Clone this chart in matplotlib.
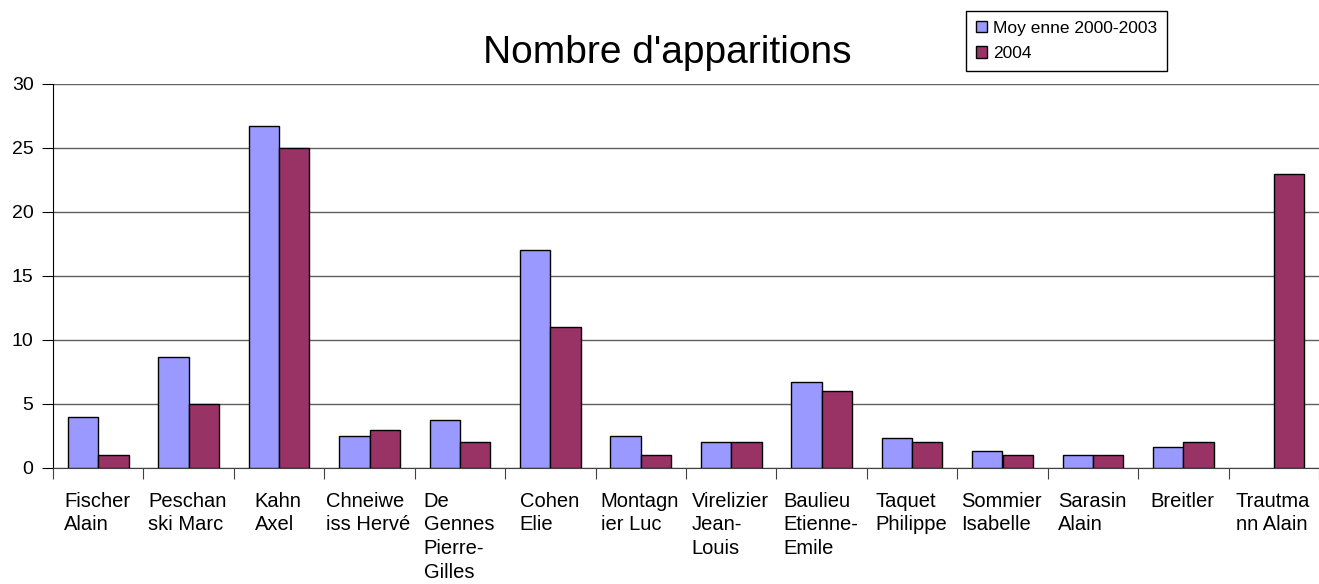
import matplotlib.pyplot as plt
import matplotlib.transforms as mtransforms
import numpy as np

plt.rcParams['font.family'] = ['Liberation Sans', 'DejaVu Sans']

names = ["Fischer\nAlain", "Peschan\nski Marc", "Kahn\nAxel", "Chneiwe\niss Hervé",
         "De\nGennes\nPierre-\nGilles", "Cohen\nElie", "Montagn\nier Luc",
         "Virelizier\nJean-\nLouis", "Baulieu\nEtienne-\nEmile", "Taquet\nPhilippe",
         "Sommier\nIsabelle", "Sarasin\nAlain", "Breitler", "Trautma\nnn Alain"]
moyenne = [4, 8.67, 26.75, 2.5, 3.75, 17, 2.5, 2, 6.75, 2.33, 1.33, 1, 1.67, 0]
annee_2004 = [1, 5, 25, 3, 2, 11, 1, 2, 6, 2, 1, 1, 2, 23]
series_names = ["Moy enne 2000-2003", "2004"]
yticks = [0, 5, 10, 15, 20, 25, 30]

fig = plt.figure(figsize=(13.19, 5.84), dpi=100)
ax = fig.add_axes([53 / 1319, 116 / 584, 1 - 53 / 1319, 384 / 584])

x = np.arange(len(names))
w = 0.335
b1 = ax.bar(x - w, moyenne, w, align='edge', color='#9999FF', edgecolor='black',
            linewidth=1, label=series_names[0], zorder=3)
b2 = ax.bar(x, annee_2004, w, align='edge', color='#993366', edgecolor='black',
            linewidth=1, label=series_names[1], zorder=3)
# empty bars are not drawn in the original
for bars in (b1, b2):
    for r in bars:
        if r.get_height() == 0:
            r.set_visible(False)

ax.set_xlim(-0.5, len(names) - 0.5)
ax.set_ylim(0, 30)
ax.set_yticks(yticks)
ax.yaxis.grid(True, color='#606060', linewidth=1)
ax.set_axisbelow(True)
ax.tick_params(axis='y', labelsize=14, length=8, direction='out', pad=6)

ax.set_xticks(np.arange(len(names) + 1) - 0.5)
ax.set_xticklabels([])
ax.tick_params(axis='x', length=8, direction='out', color='#404040')

for s in ['top', 'right']:
    ax.spines[s].set_visible(False)
ax.spines['left'].set_color('black')
ax.spines['bottom'].set_color('#404040')

offset = mtransforms.ScaledTranslation(-1 / 100, -24 / 100, fig.dpi_scale_trans)
trans = ax.get_xaxis_transform() + offset
for i, n in enumerate(names):
    ax.text(i, 0, n, transform=trans, ha='center', va='top', multialignment='left',
            fontsize=14.5, linespacing=1.3)

fig.text(667 / 1319, 1 - 63 / 584, "Nombre d'apparitions", ha='center',
         va='baseline', fontsize=28)

leg = fig.legend(loc='upper left', bbox_to_anchor=(966 / 1319, 1 - 11 / 584),
                 borderaxespad=0, fontsize=12.5, handlelength=0.68, handleheight=0.68,
                 handletextpad=0.35, borderpad=0.55, labelspacing=0.62,
                 fancybox=False, framealpha=1)
leg.get_frame().set_edgecolor('black')
leg.get_frame().set_linewidth(1)

fig.savefig('out.png', dpi=100)
